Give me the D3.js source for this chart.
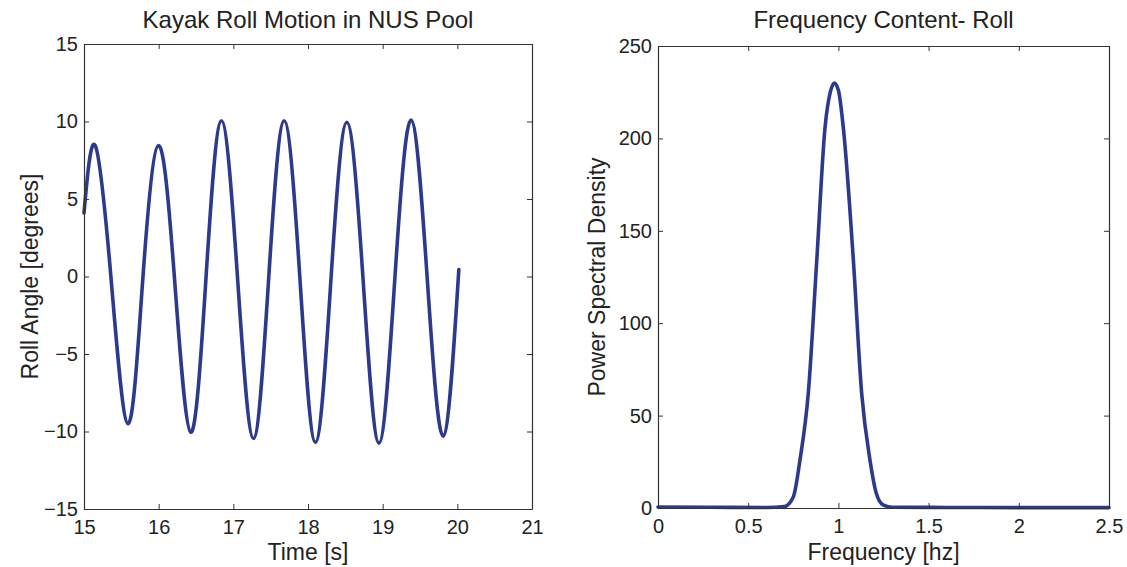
<!DOCTYPE html>
<html>
<head>
<meta charset="utf-8">
<script src="https://cdn.jsdelivr.net/npm/d3@7"></script>
<style>
  body { margin: 0; background: #fff; }
  svg { font-family: "Liberation Sans", Arial, sans-serif; }
  .axis path, .axis line { stroke: #333; }
  .axis text { fill: #222; font-size: 20px; }
  .title { fill: #222; font-size: 24px; }
  .label { fill: #222; font-size: 23px; }
</style>
</head>
<body>
<div id="chart"></div>
<script>
// roll time history: extrema and zero crossings
var rollTime  = [15.0, 15.15, 15.36, 15.59, 15.79, 16.0, 16.21, 16.43, 16.635, 16.84, 17.055, 17.27, 17.475,
                 17.68, 17.89, 18.10, 18.31, 18.52, 18.735, 18.95, 19.165, 19.38, 19.595, 19.81, 20.02];
var rollAngle = [4.1, 8.45, 0, -9.5, 0, 8.45, 0, -10.05, 0, 10.05, 0, -10.45, 0,
                 10.05, 0, -10.7, 0, 9.95, 0, -10.75, 0, 10.1, 0, -10.3, 0.45];

// power spectral density of roll
var freq = [0, 0.3, 0.6, 0.7, 0.75, 0.787, 0.833, 0.88, 0.926, 0.955, 0.977, 1.0, 1.027, 1.083, 1.129,
            1.175, 1.21, 1.25, 1.3, 1.6, 2.0, 2.5];
var psd  = [0.5, 0.4, 0.3, 0.8, 6, 26, 62, 134, 206, 225, 230, 226, 206, 134, 62,
            26, 8, 1.5, 0.4, 0.3, 0.2, 0.2];

var rollXTicks = [15, 16, 17, 18, 19, 20, 21];
var rollYTicks = [-15, -10, -5, 0, 5, 10, 15];
var psdXTicks = [0, 0.5, 1, 1.5, 2, 2.5];
var psdYTicks = [0, 50, 100, 150, 200, 250];

var svgWidth = 1127;
var svgHeight = 567;
var lineColor = "#2c3a8e";

var svg = d3.select("#chart")
  .append("svg")
  .attr("width", svgWidth)
  .attr("height", svgHeight);

function drawPanel(opts) {
  var w = opts.right - opts.left;
  var h = opts.bottom - opts.top;

  var g = svg.append("g")
    .attr("transform", `translate(${opts.left}, ${opts.top})`);

  var x = d3.scaleLinear().domain(opts.xDomain).range([0, w]);
  var y = d3.scaleLinear().domain(opts.yDomain).range([h, 0]);

  g.append("path")
    .datum(opts.xs.map((d, i) => [d, opts.ys[i]]))
    .attr("fill", "none")
    .attr("stroke", lineColor)
    .attr("stroke-width", 3.6)
    .attr("stroke-linejoin", "round")
    .attr("stroke-linecap", "round")
    .attr("d", d3.line()
      .x(d => x(d[0]))
      .y(d => y(d[1]))
      .curve(opts.curve));

  var fmt = d => d3.format("")(d).replace("-", "\u2212");

  g.append("g")
    .attr("class", "axis")
    .attr("transform", `translate(0, ${h})`)
    .call(d3.axisBottom(x).tickValues(opts.xTicks).tickFormat(fmt)
      .tickSizeInner(-5).tickSizeOuter(0).tickPadding(11));

  g.append("g")
    .attr("class", "axis")
    .call(d3.axisLeft(y).tickValues(opts.yTicks).tickFormat(fmt)
      .tickSizeInner(-5).tickSizeOuter(0).tickPadding(6));

  g.append("g")
    .attr("class", "axis")
    .call(d3.axisTop(x).tickValues(opts.xTicks).tickFormat("")
      .tickSizeInner(-5).tickSizeOuter(0));

  g.append("g")
    .attr("class", "axis")
    .attr("transform", `translate(${w}, 0)`)
    .call(d3.axisRight(y).tickValues(opts.yTicks).tickFormat("")
      .tickSizeInner(-5).tickSizeOuter(0));

  g.selectAll(".axis path").attr("stroke-width", 1.2);

  g.append("text")
    .attr("class", "title")
    .attr("x", w / 2)
    .attr("y", 28 - opts.top)
    .attr("text-anchor", "middle")
    .text(opts.title);

  g.append("text")
    .attr("class", "label")
    .attr("x", w / 2)
    .attr("y", 560 - opts.top)
    .attr("text-anchor", "middle")
    .text(opts.xLabel);

  g.append("text")
    .attr("class", "label")
    .attr("transform", `translate(${opts.yLabelX - opts.left}, ${h / 2}) rotate(-90)`)
    .attr("text-anchor", "middle")
    .text(opts.yLabel);
}

drawPanel({
  left: 84, right: 532, top: 44, bottom: 509,
  xDomain: [15, 21], yDomain: [-15, 15],
  xTicks: rollXTicks, yTicks: rollYTicks,
  xs: rollTime, ys: rollAngle,
  curve: d3.curveNatural,
  title: "Kayak Roll Motion in NUS Pool",
  xLabel: "Time [s]",
  yLabel: "Roll Angle [degrees]",
  yLabelX: 38
});

drawPanel({
  left: 658, right: 1109, top: 46, bottom: 508,
  xDomain: [0, 2.5], yDomain: [0, 250],
  xTicks: psdXTicks, yTicks: psdYTicks,
  xs: freq, ys: psd,
  curve: d3.curveMonotoneX,
  title: "Frequency Content- Roll",
  xLabel: "Frequency [hz]",
  yLabel: "Power Spectral Density",
  yLabelX: 605
});
</script>
</body>
</html>
